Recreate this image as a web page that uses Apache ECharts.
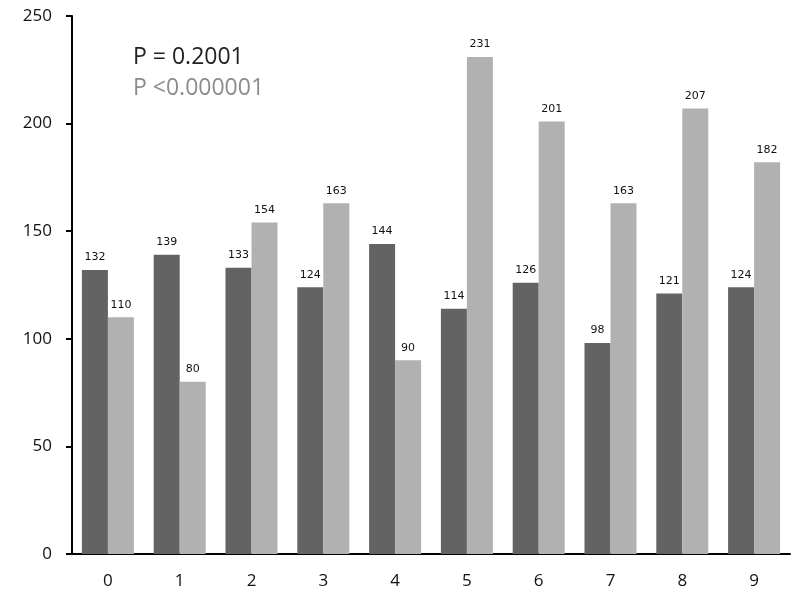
<!DOCTYPE html>
<html><head><meta charset="utf-8">
<script src="https://cdn.jsdelivr.net/npm/echarts@6/dist/echarts.min.js"></script>
<style>html,body{margin:0;padding:0;background:#fff}#c{width:800px;height:600px}</style>
</head><body><div id="c"></div>
<script>
const categories = ['0','1','2','3','4','5','6','7','8','9'];
const seriesA = [132,139,133,124,144,114,126,98,121,124];
const seriesB = [110,80,154,163,90,231,201,163,207,182];
const yTicks = {min:0, max:250, interval:50};
const notes = ['P = 0.2001', 'P <0.000001'];

const chart = echarts.init(document.getElementById('c'), null, {renderer:'canvas'});
const labelStyle = {show:true, position:'top', distance:7, fontFamily:'DejaVu Sans', fontSize:11, color:'#111'};
chart.setOption({
  animation:false,
  backgroundColor:'#fff',
  grid:{left:72, right:10, top:16, bottom:46, containLabel:false},
  graphic:[
    {type:'text', x:133, y:57, style:{text:notes[0], font:'23px "Open Sans", "DejaVu Sans", sans-serif', fill:'#222', verticalAlign:'middle'}},
    {type:'text', x:133, y:88, style:{text:notes[1], font:'23px "Open Sans", "DejaVu Sans", sans-serif', fill:'#8c8c8c', verticalAlign:'middle'}}
  ],
  xAxis:{type:'category', data:categories,
    axisLine:{lineStyle:{color:'#000', width:2}},
    axisTick:{show:false},
    axisLabel:{fontFamily:'"Open Sans", "DejaVu Sans", sans-serif', fontSize:17, color:'#111', margin:19}},
  yAxis:{type:'value', min:yTicks.min, max:yTicks.max, interval:yTicks.interval,
    splitLine:{show:false},
    axisLine:{show:true, lineStyle:{color:'#000', width:2}},
    axisTick:{show:true, length:6, lineStyle:{color:'#000', width:2}},
    axisLabel:{fontFamily:'"Open Sans", "DejaVu Sans", sans-serif', fontSize:17, color:'#111', margin:20}},
  series:[
    {type:'bar', data:seriesA, barWidth:26, barGap:'0%', itemStyle:{color:'#636363'}, label:labelStyle},
    {type:'bar', data:seriesB, barWidth:26, barGap:'0%', itemStyle:{color:'#b1b1b1'}, label:labelStyle}
  ]
});
</script></body></html>
